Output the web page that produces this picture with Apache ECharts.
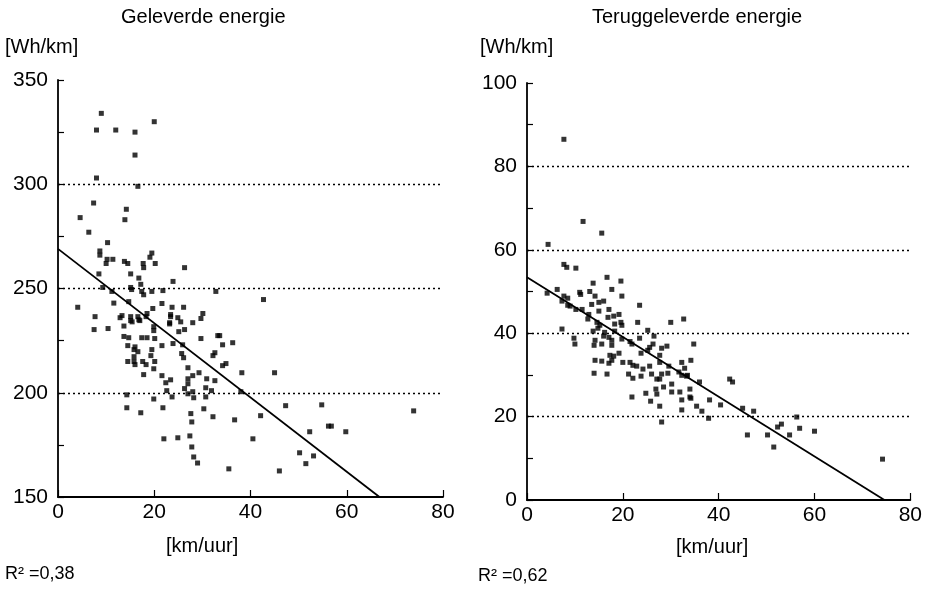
<!DOCTYPE html>
<html>
<head>
<meta charset="utf-8">
<script src="https://cdn.jsdelivr.net/npm/echarts@6/dist/echarts.min.js"></script>
<style>html,body{margin:0;padding:0;background:#fff}#c{width:925px;height:594px}</style>
</head>
<body>
<div id="c"></div>
<script>
// ---- Left panel: Geleverde energie [Wh/km] vs speed [km/uur]
const leftPoints = [
[9,334],[8,326],[12,326],[16,325],[20,330],[16,314],[8,303],[16.6,299],[7.4,291],[4.6,284],[14.2,288],[13.9,283],
[6.4,277],[10.3,272],[8.7,268],[8.7,266],[11.4,264],[10.2,264],[10,262],[13.8,263],[14.5,262],[19.5,267],[19.1,265],
[20.2,262],[17.7,262],[17.8,260],[26.3,260],
[8.5,257],[15.1,257],[16.8,255],[17.2,252],[9.3,250.5],[15.1,250.5],[15.3,249.5],[17.4,248.6],[17.8,247],[19.5,248.6],
[11.2,248.6],[21.8,249],[23.9,253.4],[32.8,248.6],[42.7,244.7],[11.6,243],[14.7,243.7],[4.1,241],[7.7,236.5],[13.3,237],
[12.9,236],[15.1,236.5],[15.1,234.6],[16.6,236.5],[16.8,235],[18.5,238],[18.3,236.5],[19.7,240.4],[21.6,242.8],[23.7,241],
[23.4,237.5],[23.4,236.5],[24.9,236],[26.1,241],[25.5,234],[28,233.6],[29.7,235.6],[30.1,238],[23.2,233.6],
[7.5,230.3],[10.4,230.8],[13.7,232],[15.4,234],[17,234.6],[19.9,231.7],[19.9,229.8],[23.2,233],[25.1,229.3],[26.3,230.3],
[13.7,227],[14.7,226.4],[17.4,226.4],[18.5,226.4],[20.1,226],[29.7,226],[33.2,227.4],[33.6,227.4],[36.3,224],[34.2,223],
[14.5,222.6],[16,222],[15.8,220.7],[16.6,219.7],[21.6,222.6],[23.9,223.6],[25.9,223],[19.5,220.7],[25.7,218.8],[26.1,216.8],
[19.3,217.8],[15.8,217.3],[32.2,217.8],[32.6,219.2],[14.5,215],[15.8,215],[16,213.5],[17.6,215],[18.3,213.5],[20.1,215],
[19.9,211.5],[17.8,208.7],[27,212],[34.2,213],[34.9,214],[29.3,209.6],[28,208.2],[27,206.7],[21.6,208.2],[23.4,206.2],
[22.4,204.8],[27,204.3],[30.9,206.7],[32.6,205.8],[38.2,209.6],[45,209.6],[22.6,201],[26.3,202],[28,200.5],[27,199.5],
[28.2,197.6],[23.7,198],[30.7,202.4],[31.9,201],[30.7,198],[38,200.5],[14.3,199],[19.9,197],[14.3,192.8],[17.2,190.4],
[21.8,192.8],[30.3,192.3],[27.6,190],[32.2,188.5],[36.7,187],[42.1,189],[27.8,186],[22,177.9],[24.9,178.4],[27.4,179.3],
[40.5,177.9],[27.8,174],[28.2,169.2],[29,166.3],[35.5,163.5],[46,162.5],
[47.3,193.8],[54.8,194.2],[52.3,181.3],[56.2,184],[56.8,184],[59.8,181.3],[73.9,191.3],[50.2,171.2],[53.1,169.7],[51.5,166]
];
const leftFit = [[0, 269], [66.8, 150]];
const leftGridValues = [200, 250, 300];
const leftXTicks = [0, 20, 40, 60, 80];
const leftYTicks = [150, 200, 250, 300, 350];

// ---- Right panel: Teruggeleverde energie [Wh/km] vs speed [km/uur]
const rightPoints = [
[7.7,86.5],[11.7,66.8],[15.6,64],[4.4,61.3],[7.7,56.5],[8.3,55.8],[10.2,55.6],
[16.7,53.4],[13.8,52],[19.6,52.5],[17.7,50.5],[6.3,50.5],[4.2,49.6],[11,49.8],[11.2,49.3],[13.1,50],[14.2,48.9],
[7.7,48.9],[8.5,48.4],[19.8,48.9],[7.3,47.7],[15,47.4],[16,47.7],[8.5,46.7],[9,46.5],[13.5,46.9],[23.5,46.7],
[10.2,45.7],[11.5,45.7],[17.1,45.7],[12.9,44.5],[15,45.3],[16.9,43.8],[18.1,44.1],[19.2,44.5],[12.7,43.4],
[18.3,42.2],[19.6,42.6],[19.8,41.9],[23.1,42.6],[30,42.6],[32.7,43.4],[14.6,42.6],[15.2,41.9],[14.8,41.2],[7.3,41],
[13.8,40.5],[16.2,40.2],[25.2,40.7],
[9.8,38.8],[10,37.4],[14.2,38.3],[15.6,37.4],[14,37.1],[17.7,37.1],[17.7,38.3],[16,39.3],[17.1,39],[18.3,40.5],
[19.8,38.6],[21.5,38],[21.9,37.4],[23.5,38.8],[26.5,39.3],[26.3,37.4],[28.1,36.4],[29.2,36.9],[34.8,37.4],
[14.2,33.5],[15.6,33.3],[17.1,32.8],[17.7,33.5],[17.3,34.7],[18.1,34.5],[19.2,35.2],[20,33],[21.5,33],[22.1,32.3],
[22.9,32.1],[23.8,35.2],[25.2,35.9],[25.6,36.6],[27.7,34.7],[27.7,33],[29.6,32.1],[29.4,30.4],[32.3,33],[34.2,33.5],
[31.7,30.7],[32.3,29.9],[33.5,29.9],[25.6,32.1],[24.2,31.4],[14,30.4],[16.7,30.2],[21.2,30.2],[22.1,29.2],[23.8,29.7],
[26,30.2],[28.1,30.2],[27.1,29],[27.7,29],[30.2,27.8],[36,28.3],[21.9,24.7],[24.8,25.6],[26.9,26.6],[28.5,27.1],
[30.2,25.9],[31.9,25.9],[34,26.6],[27.1,25.4],[25.8,23.7],[27.7,22.5],[32.3,24],[34.2,24.4],[35.4,22.5],[36.5,21.3],
[32.3,21.6],[38.1,24],[40.4,22.8],[37.9,19.6],[28.1,18.7],[32.9,31.6],[33.3,29.7],[34,24.7],
[42.3,29],[42.9,28.3],[45,22],[47.3,21.3],[46,15.6],[50.2,15.6],[51.5,12.7],[52.3,17.5],[53.1,18.2],[54.8,15.6],
[56.3,19.9],[56.9,17.2],[60,16.5],[74.2,9.8]
];
const rightFit = [[0, 53.4], [74.6, 0]];
const rightGridValues = [20, 40, 60, 80];
const rightXTicks = [0, 20, 40, 60, 80];
const rightYTicks = [0, 20, 40, 60, 80, 100];

const FONT = 'Liberation Sans, Arial, sans-serif';
const black = '#000';

function xAxisCfg(idx) {
  return {
    type: 'value', gridIndex: idx, min: 0, max: 80, interval: 20,
    axisLine: { show: true, onZero: false, lineStyle: { color: black, width: 1.8 } },
    axisTick: { show: true, inside: true, length: 7, lineStyle: { color: black, width: 1.2 } },
    axisLabel: { color: black, fontSize: 21, fontFamily: FONT, margin: 5 },
    splitLine: { show: false }
  };
}
function yAxisCfg(idx, min, max, step, labelStep) {
  return {
    type: 'value', gridIndex: idx, min: min, max: max, interval: step,
    axisLine: { show: true, onZero: false, lineStyle: { color: black, width: 1.8 } },
    axisTick: { show: true, inside: true, length: 6, lineStyle: { color: black, width: 1.2 } },
    axisLabel: {
      color: black, fontSize: 21, fontFamily: FONT, margin: 10,
      formatter: function (v) { return (Math.round(v - min) % labelStep === 0) ? String(v) : ''; }
    },
    splitLine: { show: false }
  };
}
function gridMark(values) {
  return {
    silent: true, symbol: ['none', 'none'], label: { show: false },
    lineStyle: { color: black, type: [2, 3], width: 1.4 },
    data: values.map(v => ({ yAxis: v }))
  };
}

const chart = echarts.init(document.getElementById('c'));
chart.setOption({
  backgroundColor: '#fff',
  animation: false,
  grid: [
    { left: 58, top: 80, width: 385, height: 417 },
    { left: 527, top: 83, width: 384, height: 417 }
  ],
  xAxis: [xAxisCfg(0), xAxisCfg(1)],
  yAxis: [yAxisCfg(0, 150, 350, 25, 50), yAxisCfg(1, 0, 100, 10, 20)],
  series: [
    { type: 'scatter', xAxisIndex: 0, yAxisIndex: 0, data: leftPoints, symbol: 'rect', symbolSize: 5,
      itemStyle: { color: black }, markLine: gridMark(leftGridValues) },
    { type: 'line', xAxisIndex: 0, yAxisIndex: 0, data: leftFit, symbol: 'none',
      lineStyle: { color: black, width: 1.8 } },
    { type: 'scatter', xAxisIndex: 1, yAxisIndex: 1, data: rightPoints, symbol: 'rect', symbolSize: 5,
      itemStyle: { color: black }, markLine: gridMark(rightGridValues) },
    { type: 'line', xAxisIndex: 1, yAxisIndex: 1, data: rightFit, symbol: 'none',
      lineStyle: { color: black, width: 1.8 } }
  ],
  graphic: [
    { type: 'text', left: 121, top: 7, style: { text: 'Geleverde energie', fill: black, font: '20px ' + FONT } },
    { type: 'text', left: 5, top: 37, style: { text: '[Wh/km]', fill: black, font: '20px ' + FONT } },
    { type: 'text', left: 166, top: 536, style: { text: '[km/uur]', fill: black, font: '20px ' + FONT } },
    { type: 'text', left: 5, top: 565, style: { text: 'R² =0,38', fill: black, font: '18px ' + FONT } },
    { type: 'text', left: 592, top: 7, style: { text: 'Teruggeleverde energie', fill: black, font: '20px ' + FONT } },
    { type: 'text', left: 480, top: 37, style: { text: '[Wh/km]', fill: black, font: '20px ' + FONT } },
    { type: 'text', left: 676, top: 537, style: { text: '[km/uur]', fill: black, font: '20px ' + FONT } },
    { type: 'text', left: 478, top: 567, style: { text: 'R² =0,62', fill: black, font: '18px ' + FONT } }
  ]
});
</script>
</body>
</html>
